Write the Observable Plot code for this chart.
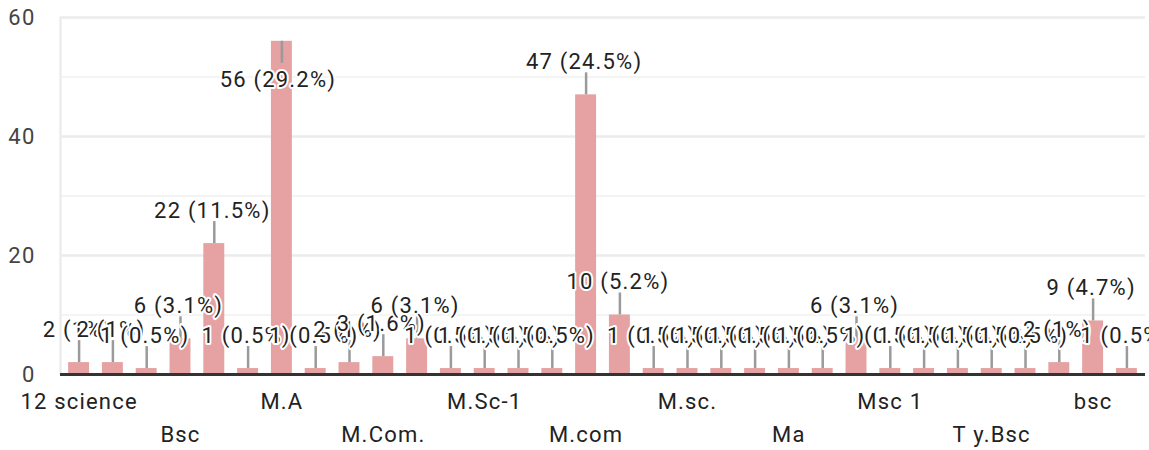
<!DOCTYPE html>
<html>
<head>
<meta charset="utf-8">
<script src="https://cdn.jsdelivr.net/npm/d3@7"></script>
<script src="https://cdn.jsdelivr.net/npm/@observablehq/plot@0.6"></script>
<style>
  html, body { margin: 0; padding: 0; background: #fff; }
  #chart svg text { letter-spacing: 1.2px; }
</style>
</head>
<body>
<div id="chart"></div>
<script>
const categories = ["12 science","B.Sc","B.sc","Bsc","M. A","M. Sc","M.A","M.A.","M.Com","M.Com.","M.Sc","M.Sc (Chem)","M.Sc-1","M.Sc.","M.Tech","M.com","M.sc","M.sc Maths","M.sc.","M.tech","MA","Ma","Mcom","Msc","Msc 1","Msc.","Ph.D","T y.Bsc","TY Bsc","Ty.Bsc","bsc","msc"];
const counts = [2,2,1,6,22,1,56,1,2,3,6,1,1,1,1,47,10,1,1,1,1,1,1,6,1,1,1,1,1,2,9,1];
const yTicks = [0, 20, 40, 60];
const minorTicks = [10, 30, 50];

const total = d3.sum(counts);
const data = categories.map((c, i) => ({cat: c, value: counts[i], idx: i}));
const pctLabel = v => `${v} (${+(v / total * 100).toFixed(1)}%)`;

const W = 1149, H = 450, mT = 17, mB = 76, mL = 60, mR = 4;
const yMax = 60;
const pIn = 0.38, pOut = 0.24;
const pxPerUnit = (H - mT - mB) / yMax;
const stem = 22 / pxPerUnit;
const inside = d => (yMax - d.value) * pxPerUnit < 46;
const step = (W - mL - mR) / (categories.length - pIn + 2 * pOut);
const firstOffset = -(step * pOut + step * (1 - pIn) / 2);

const chart = Plot.plot({
  width: W,
  height: H,
  marginTop: mT,
  marginBottom: mB,
  marginLeft: mL,
  marginRight: mR,
  style: {fontFamily: "Roboto, 'Liberation Sans', sans-serif", fontSize: "22px", background: "#fff"},
  x: {domain: categories, paddingInner: pIn, paddingOuter: pOut, round: false, label: null},
  y: {domain: [0, yMax], label: null},
  marks: [
    Plot.ruleY(minorTicks, {stroke: "#f4f4f4", strokeWidth: 2}),
    Plot.ruleY(yTicks.filter(t => t > 0), {stroke: "#ebebeb", strokeWidth: 2.5}),
    Plot.ruleX([categories[0]], {dx: firstOffset, y1: 0, y2: yMax, stroke: "#ececec", strokeWidth: 2.5}),
    Plot.barY(data, {x: "cat", y: "value", fill: "#e6a2a2"}),
    Plot.ruleX(data, {
      x: "cat",
      y1: "value",
      y2: d => inside(d) ? d.value - stem : d.value + stem,
      stroke: "#9a9a9a",
      strokeWidth: 2.5
    }),
    Plot.text(data, {
      x: "cat",
      y: "value",
      text: d => pctLabel(d.value),
      lineAnchor: "bottom",
      fill: "#222",
      stroke: "white",
      strokeWidth: 4,
      filter: d => !inside(d),
      dy: -26,
      dx: -2
    }),
    Plot.text(data, {
      x: "cat",
      y: "value",
      text: d => pctLabel(d.value),
      lineAnchor: "bottom",
      fill: "#222",
      stroke: "white",
      strokeWidth: 4,
      filter: d => inside(d),
      dy: 46,
      dx: -4
    }),
    Plot.ruleY([0], {stroke: "#333", strokeWidth: 3}),
    Plot.axisY({ticks: yTicks, tickSize: 0, tickPadding: 25, fill: "#444", label: null}),
    Plot.axisX({
      tickSize: 0,
      tickPadding: 19,
      fill: "#222",
      label: null,
      tickFormat: d => categories.indexOf(d) % 6 === 0 ? d : ""
    }),
    Plot.axisX({
      tickSize: 0,
      tickPadding: 52,
      fill: "#222",
      label: null,
      tickFormat: d => categories.indexOf(d) % 6 === 3 ? d : ""
    })
  ]
});
document.getElementById("chart").append(chart);
</script>
</body>
</html>
